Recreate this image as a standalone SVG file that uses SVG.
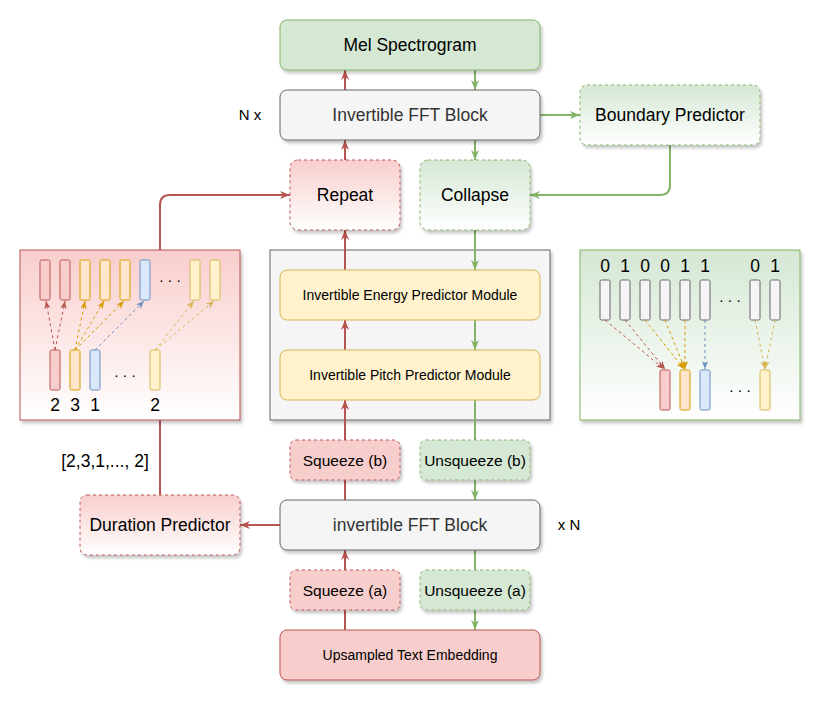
<svg xmlns="http://www.w3.org/2000/svg" width="827" height="707" viewBox="0 0 827 707">
<defs>
<filter id="sh" x="-10%" y="-10%" width="130%" height="140%">
<feDropShadow dx="2" dy="3" stdDeviation="1.5" flood-color="#000" flood-opacity="0.22"/>
</filter>
<linearGradient id="gRed" x1="0" y1="0" x2="0" y2="1"><stop offset="0" stop-color="#f8cecc"/><stop offset="1" stop-color="#ffffff"/></linearGradient>
<linearGradient id="gGreen" x1="0" y1="0" x2="0" y2="1"><stop offset="0" stop-color="#d5e8d4"/><stop offset="1" stop-color="#ffffff"/></linearGradient>
<marker id="aR" viewBox="0 0 10 10" refX="10" refY="5" markerWidth="10" markerHeight="10" markerUnits="userSpaceOnUse" orient="auto"><path d="M0,1 L10,5 L0,9 L3,5 z" fill="#b85450"/></marker>
<marker id="aG" viewBox="0 0 10 10" refX="10" refY="5" markerWidth="10" markerHeight="10" markerUnits="userSpaceOnUse" orient="auto"><path d="M0,1 L10,5 L0,9 L3,5 z" fill="#82b366"/></marker>
<marker id="sR" viewBox="0 0 10 10" refX="10" refY="5" markerWidth="8" markerHeight="8" markerUnits="userSpaceOnUse" orient="auto"><path d="M0,1 L10,5 L0,9 L3,5 z" fill="#b85450"/></marker>
<marker id="sO" viewBox="0 0 10 10" refX="10" refY="5" markerWidth="8" markerHeight="8" markerUnits="userSpaceOnUse" orient="auto"><path d="M0,1 L10,5 L0,9 L3,5 z" fill="#d79b00"/></marker>
<marker id="sB" viewBox="0 0 10 10" refX="10" refY="5" markerWidth="8" markerHeight="8" markerUnits="userSpaceOnUse" orient="auto"><path d="M0,1 L10,5 L0,9 L3,5 z" fill="#6c8ebf"/></marker>
<marker id="sY" viewBox="0 0 10 10" refX="10" refY="5" markerWidth="8" markerHeight="8" markerUnits="userSpaceOnUse" orient="auto"><path d="M0,1 L10,5 L0,9 L3,5 z" fill="#d6b656"/></marker>
</defs>
<style>
text{font-family:"Liberation Sans",Arial,Helvetica,sans-serif;fill:#000;text-anchor:middle;}
.t17{font-size:17.5px;}
.t15{font-size:15.5px;}
.t14{font-size:14px;}
.gray{fill:#f5f5f5;stroke:#666666;stroke-width:1;}
.redS{fill:#f8cecc;stroke:#b85450;stroke-width:1;}
.grnS{fill:#d5e8d4;stroke:#82b366;stroke-width:1;}
.yel{fill:#fff2cc;stroke:#d6b656;stroke-width:1;}
.dash{stroke-dasharray:3 3;}
.cR{fill:none;stroke:#b85450;stroke-width:2;}
.cG{fill:none;stroke:#82b366;stroke-width:2;}
.bR{fill:#f8cecc;stroke:#b85450;}
.bO{fill:#ffe6cc;stroke:#d79b00;}
.bB{fill:#dae8fc;stroke:#6c8ebf;}
.bY{fill:#fff2cc;stroke:#d6b656;}
.bG{fill:#f5f5f5;stroke:#666666;}
.dR{fill:none;stroke:#b85450;stroke-dasharray:3 3;}
.dO{fill:none;stroke:#d79b00;stroke-dasharray:3 3;}
.dB{fill:none;stroke:#6c8ebf;stroke-dasharray:3 3;}
.dY{fill:none;stroke:#d6b656;stroke-dasharray:3 3;}
</style>

<g id="variance-container"><rect x="270" y="250" width="280" height="170" class="gray" filter="url(#sh)"/></g>

<g id="connectors">
<path class="cR" d="M345,90 V70" marker-end="url(#aR)"/>
<path class="cR" d="M345,160 V140" marker-end="url(#aR)"/>
<path class="cR" d="M345,270 V230" marker-end="url(#aR)"/>
<path class="cR" d="M345,350 V320" marker-end="url(#aR)"/>
<path class="cR" d="M345,500 V400" marker-end="url(#aR)"/>
<path class="cR" d="M345,630 V550" marker-end="url(#aR)"/>
<path class="cR" d="M280,525 H240" marker-end="url(#aR)"/>
<path class="cR" d="M160,495 V205 Q160,195 170,195 H290" marker-end="url(#aR)"/>
<path class="cG" d="M475,70 V90" marker-end="url(#aG)"/>
<path class="cG" d="M475,140 V160" marker-end="url(#aG)"/>
<path class="cG" d="M475,230 V270" marker-end="url(#aG)"/>
<path class="cG" d="M475,320 V350" marker-end="url(#aG)"/>
<path class="cG" d="M475,400 V500" marker-end="url(#aG)"/>
<path class="cG" d="M475,550 V630" marker-end="url(#aG)"/>
<path class="cG" d="M540,115 H580" marker-end="url(#aG)"/>
<path class="cG" d="M670,145 V185 Q670,195 660,195 H530" marker-end="url(#aG)"/>
</g>

<g id="mel"><rect x="280" y="20" width="260" height="50" rx="7" class="grnS" filter="url(#sh)"/><text x="410" y="51" class="t17">Mel Spectrogram</text></g>
<g id="fft-top"><rect x="280" y="90" width="260" height="50" rx="7" class="gray" filter="url(#sh)"/><text x="410" y="121" class="t17" style="fill:#333333">Invertible FFT Block</text></g>
<g id="nx"><text x="250" y="120" class="t14" style="font-size:15px">N x</text></g>
<g id="boundary"><rect x="580" y="85" width="180" height="60" rx="7" fill="url(#gGreen)" stroke="#82b366" class="dash" filter="url(#sh)"/><text x="670" y="121" class="t17">Boundary Predictor</text></g>
<g id="repeat"><rect x="290" y="160" width="110" height="70" rx="8" fill="url(#gRed)" stroke="#b85450" class="dash" filter="url(#sh)"/><text x="345" y="201" class="t17">Repeat</text></g>
<g id="collapse"><rect x="420" y="160" width="110" height="70" rx="8" fill="url(#gGreen)" stroke="#82b366" class="dash" filter="url(#sh)"/><text x="475" y="201" class="t17">Collapse</text></g>

<g id="energy"><rect x="280" y="270" width="260" height="50" rx="7" class="yel"/><text x="410" y="300" class="t14">Invertible Energy Predictor Module</text></g>
<g id="pitch"><rect x="280" y="350" width="260" height="50" rx="7" class="yel"/><text x="410" y="380" class="t14">Invertible Pitch Predictor Module</text></g>

<g id="repeat-panel">
<rect x="20" y="250" width="220" height="170" fill="url(#gRed)" stroke="#b85450" filter="url(#sh)"/>
<rect x="40" y="260" width="10" height="40" rx="1.5" class="bR"/>
<rect x="60" y="260" width="10" height="40" rx="1.5" class="bR"/>
<rect x="80" y="260" width="10" height="40" rx="1.5" class="bO"/>
<rect x="100" y="260" width="10" height="40" rx="1.5" class="bO"/>
<rect x="120" y="260" width="10" height="40" rx="1.5" class="bO"/>
<rect x="140" y="260" width="10" height="40" rx="1.5" class="bB"/>
<rect x="190" y="260" width="10" height="40" rx="1.5" class="bY"/>
<rect x="210" y="260" width="10" height="40" rx="1.5" class="bY"/>
<text x="170" y="282" class="t15">. . .</text>
<rect x="50" y="350" width="10" height="40" rx="1.5" class="bR"/>
<rect x="70" y="350" width="10" height="40" rx="1.5" class="bO"/>
<rect x="90" y="350" width="10" height="40" rx="1.5" class="bB"/>
<rect x="150" y="350" width="10" height="40" rx="1.5" class="bY"/>
<text x="125" y="377" class="t15">. . .</text>
<path class="dR" d="M55,350 L46,301" marker-end="url(#sR)"/>
<path class="dR" d="M55,350 L65,301" marker-end="url(#sR)"/>
<path class="dO" d="M75,350 L85,301" marker-end="url(#sO)"/>
<path class="dO" d="M75,350 L104,301" marker-end="url(#sO)"/>
<path class="dO" d="M75,350 L124,301" marker-end="url(#sO)"/>
<path class="dB" d="M95,350 L144,301" marker-end="url(#sB)"/>
<path class="dY" d="M155,350 L194,301" marker-end="url(#sY)"/>
<path class="dY" d="M155,350 L214,301" marker-end="url(#sY)"/>
<text x="55" y="411" class="t17">2</text>
<text x="75" y="411" class="t17">3</text>
<text x="95" y="411" class="t17">1</text>
<text x="155" y="411" class="t17">2</text>
</g>

<g id="collapse-panel">
<rect x="580" y="250" width="220" height="170" fill="url(#gGreen)" stroke="#82b366" filter="url(#sh)"/>
<text x="605" y="272" class="t17">0</text>
<text x="625" y="272" class="t17">1</text>
<text x="645" y="272" class="t17">0</text>
<text x="665" y="272" class="t17">0</text>
<text x="685" y="272" class="t17">1</text>
<text x="705" y="272" class="t17">1</text>
<text x="755" y="272" class="t17">0</text>
<text x="775" y="272" class="t17">1</text>
<rect x="600" y="280" width="10" height="40" rx="1.5" class="bG"/>
<rect x="620" y="280" width="10" height="40" rx="1.5" class="bG"/>
<rect x="640" y="280" width="10" height="40" rx="1.5" class="bG"/>
<rect x="660" y="280" width="10" height="40" rx="1.5" class="bG"/>
<rect x="680" y="280" width="10" height="40" rx="1.5" class="bG"/>
<rect x="700" y="280" width="10" height="40" rx="1.5" class="bG"/>
<rect x="750" y="280" width="10" height="40" rx="1.5" class="bG"/>
<rect x="770" y="280" width="10" height="40" rx="1.5" class="bG"/>
<text x="730" y="302" class="t15">. . .</text>
<rect x="660" y="370" width="10" height="40" rx="1.5" class="bR"/>
<rect x="680" y="370" width="10" height="40" rx="1.5" class="bO"/>
<rect x="700" y="370" width="10" height="40" rx="1.5" class="bB"/>
<rect x="760" y="370" width="10" height="40" rx="1.5" class="bY"/>
<text x="740" y="392" class="t15">. . .</text>
<path class="dR" d="M605,320 L664,369" marker-end="url(#sR)"/>
<path class="dR" d="M625,320 L665,369" marker-end="url(#sR)"/>
<path class="dO" d="M645,320 L684,369" marker-end="url(#sO)"/>
<path class="dO" d="M665,320 L685,369" marker-end="url(#sO)"/>
<path class="dO" d="M685,320 L685,369" marker-end="url(#sO)"/>
<path class="dB" d="M705,320 L705,369" marker-end="url(#sB)"/>
<path class="dY" d="M755,320 L765,369" marker-end="url(#sY)"/>
<path class="dY" d="M775,320 L765,369" marker-end="url(#sY)"/>
</g>

<g id="duration-label"><text x="105" y="467" class="t17">[2,3,1,..., 2]</text></g>
<g id="duration"><rect x="80" y="495" width="160" height="60" rx="7" fill="url(#gRed)" stroke="#b85450" class="dash" filter="url(#sh)"/><text x="160" y="531" class="t17">Duration Predictor</text></g>

<g id="squeeze-b"><rect x="290" y="440" width="110" height="40" rx="6" class="redS dash" filter="url(#sh)"/><text x="345" y="466" class="t15">Squeeze (b)</text></g>
<g id="unsqueeze-b"><rect x="420" y="440" width="110" height="40" rx="6" class="grnS dash" filter="url(#sh)"/><text x="475" y="466" class="t15">Unsqueeze (b)</text></g>
<g id="fft-bottom"><rect x="280" y="500" width="260" height="50" rx="7" class="gray" filter="url(#sh)"/><text x="410" y="531" class="t17" style="fill:#333333">invertible FFT Block</text></g>
<g id="xn"><text x="569" y="530" class="t14" style="font-size:15px">x N</text></g>
<g id="squeeze-a"><rect x="290" y="570" width="110" height="40" rx="6" class="redS dash" filter="url(#sh)"/><text x="345" y="596" class="t15">Squeeze (a)</text></g>
<g id="unsqueeze-a"><rect x="420" y="570" width="110" height="40" rx="6" class="grnS dash" filter="url(#sh)"/><text x="475" y="596" class="t15">Unsqueeze (a)</text></g>
<g id="upsampled"><rect x="280" y="630" width="260" height="50" rx="7" class="redS" filter="url(#sh)"/><text x="410" y="660" class="t14">Upsampled Text Embedding</text></g>
</svg>
